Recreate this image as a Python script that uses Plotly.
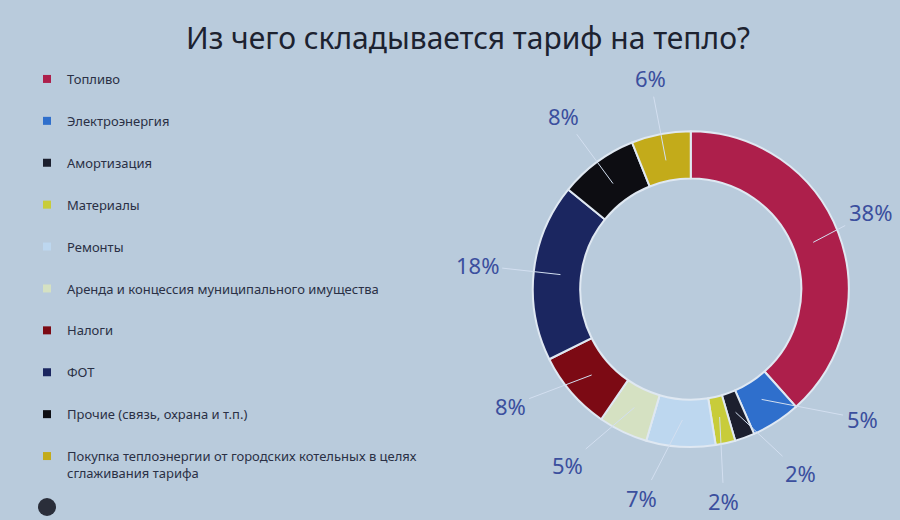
import numpy as np
import plotly.graph_objects as go

# ---- data ----
categories = [
    "Топливо",
    "Электроэнергия",
    "Амортизация",
    "Материалы",
    "Ремонты",
    "Аренда и концессия муниципального имущества",
    "Налоги",
    "ФОТ",
    "Прочие (связь, охрана и т.п.)",
    "Покупка теплоэнергии от городских котельных в целях<br>сглаживания тарифа",
]
shares = [38, 5, 2, 2, 7, 5, 8, 18, 8, 6]
pct_labels = ["38%", "5%", "2%", "2%", "7%", "5%", "8%", "18%", "8%", "6%"]

# ---- style ----
slice_colors = ["#ad1f4b", "#2f6fcc", "#1c1f2e", "#c8cc3a", "#bdd7ef",
                "#d5e1c2", "#7c0a14", "#1b2660", "#0d0d12", "#c3ab1a"]
W, H = 900, 520
BG = "#b9cbdc"
FONT = "Noto Sans"
LABEL_COLOR = "#3b4f9e"

dom_x = [0.592, 0.943]
dom_y = [0.140, 0.748]
cx = (dom_x[0] + dom_x[1]) / 2 * W
cy = (1 - (dom_y[0] + dom_y[1]) / 2) * H
R = min((dom_x[1] - dom_x[0]) * W, (dom_y[1] - dom_y[0]) * H) / 2

fig = go.Figure()

fig.add_trace(go.Pie(
    labels=categories, values=shares, sort=False, direction="clockwise",
    rotation=0, hole=0.7, textinfo="none", showlegend=False, hoverinfo="skip",
    marker=dict(colors=slice_colors, line=dict(color="#dfe8f2", width=2)),
    domain=dict(x=dom_x, y=dom_y),
))

# legend entries
for name, col in zip(categories, slice_colors):
    fig.add_trace(go.Scatter(
        x=[None], y=[None], mode="markers", name=name, legendgroup=name,
        marker=dict(symbol="square", size=8, color=col),
    ))

# label positions from slice mid-angles, spread to avoid overlap
vals = np.array(shares, dtype=float)
mid = (np.cumsum(vals) - vals / 2) / vals.sum() * 360.0
lab = mid.copy()
gap = 22.0
n = len(lab)
for _ in range(400):
    for i in range(n):
        j = (i + 1) % n
        b = lab[j] + (360 if j == 0 else 0)
        d = b - lab[i]
        if d < gap:
            push = (gap - d) / 2
            lab[i] -= push
            lab[j] += push

annotations = []
for m, a, txt in zip(mid, lab, pct_labels):
    mr = np.radians(m)
    ar = np.radians(a)
    px = cx + 0.83 * R * np.sin(mr)
    py = cy - 0.83 * R * np.cos(mr)
    tx = min(cx + 1.36 * R * np.sin(ar), W - 30)
    ty = cy - 1.36 * R * np.cos(ar)
    annotations.append(dict(
        x=px / W, y=1 - py / H, xref="paper", yref="paper",
        ax=tx - px, ay=ty - py, axref="pixel", ayref="pixel",
        text=txt, showarrow=True, arrowhead=0, arrowwidth=1,
        arrowcolor="#d3dff0", standoff=0, startstandoff=2,
        font=dict(family=FONT, size=22, color=LABEL_COLOR),
    ))

fig.update_layout(
    width=W, height=H,
    margin=dict(l=0, r=0, t=0, b=0),
    paper_bgcolor=BG, plot_bgcolor=BG,
    title=dict(text="Из чего складывается тариф на тепло?",
               x=0.52, xanchor="center", y=1 - 38 / H, yanchor="middle",
               font=dict(family=FONT, size=30, color="#1c2230")),
    xaxis=dict(visible=False), yaxis=dict(visible=False),
    legend=dict(x=0.03, y=1 - 64 / H, xanchor="left", yanchor="top",
                tracegroupgap=22, valign="top", bgcolor="rgba(0,0,0,0)",
                font=dict(family=FONT, size=13, color="#2a3045"),
                itemclick=False, itemdoubleclick=False),
    annotations=annotations,
    shapes=[dict(type="circle", xref="paper", yref="paper",
                 x0=38 / W, x1=56 / W, y0=1 - 516 / H, y1=1 - 498 / H,
                 fillcolor="#2a2e3a", line=dict(width=0))],
    showlegend=True,
)

fig.write_html("out.html")
